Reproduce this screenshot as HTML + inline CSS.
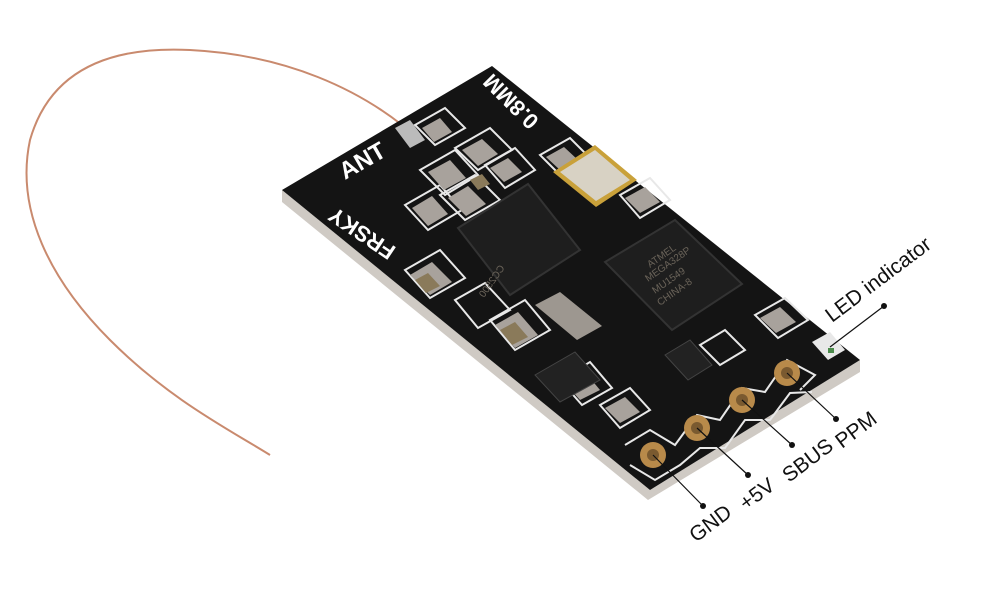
<!DOCTYPE html>
<html><head><meta charset="utf-8"><style>
html,body{margin:0;padding:0;background:#fff;}
svg{display:block;}
text{font-family:"Liberation Sans",sans-serif;}
</style></head><body>
<svg width="1000" height="606" viewBox="0 0 1000 606" xmlns="http://www.w3.org/2000/svg">
<!-- antenna -->
<path d="M402,125 C360,92 290,55 190,50 C110,46 50,70 30,140 C15,210 50,280 110,340 C170,400 230,430 270,455" fill="none" stroke="#c98a6e" stroke-width="2"/>
<!-- board edge (thickness) -->
<polygon points="282,190 282,202 648,500 860,372 860,360 650,490" fill="#cfcac4"/>
<polygon points="282,190 492,66 860,360 650,490" fill="#141414"/>
<!-- silkscreen text -->
<text x="0" y="0" font-size="24" fill="#fff" font-weight="bold" transform="translate(345,180) rotate(-30)">ANT</text>
<text x="0" y="0" font-size="22" fill="#fff" font-weight="bold" transform="translate(397,248) rotate(214)">FRSKY</text>
<text x="0" y="0" font-size="22" fill="#fff" font-weight="bold" transform="translate(540,120) rotate(225)">0.8MM</text>
<!-- antenna pad -->
<polygon points="395,128 410,120 425,140 410,148" fill="#bbb"/>
<!-- silkscreen boxes -->
<g fill="none" stroke="#e8e8e8" stroke-width="2">
<polygon points="415,125 445,108 465,128 435,145"/>
<polygon points="420,170 455,150 478,175 445,195"/>
<polygon points="455,148 490,128 512,150 478,170"/>
<polygon points="405,205 440,185 462,210 428,230"/>
<polygon points="440,195 475,175 500,200 465,220"/>
<polygon points="485,165 515,148 535,170 505,188"/>
<polygon points="540,155 570,138 590,158 560,175"/>
<polygon points="620,195 650,178 670,200 640,218"/>
<polygon points="405,270 440,250 465,278 430,298"/>
<polygon points="455,300 485,283 510,310 478,328"/>
<polygon points="490,320 525,300 550,330 515,350"/>
<polygon points="755,315 785,298 808,320 778,338"/>
<polygon points="700,345 725,330 745,350 720,365"/>
<polygon points="560,380 590,362 612,388 582,405"/>
<polygon points="600,405 630,388 650,410 620,428"/>
<polyline points="625,445 650,430 675,445 697,415 720,420 742,388 765,392 787,360 815,375 800,390"/>
<polyline points="630,465 655,480 680,465 700,448 725,448 745,420 770,420 790,393 812,392"/>
</g>
<!-- components -->
<g fill="#a8a29c">
<polygon points="422,128 440,118 452,132 434,142"/>
<polygon points="428,172 450,160 466,178 444,190"/>
<polygon points="462,150 482,139 498,154 478,166"/>
<polygon points="412,208 432,196 448,214 428,226"/>
<polygon points="448,198 468,186 486,204 466,216"/>
<polygon points="490,168 508,158 522,172 504,182"/>
<polygon points="546,157 564,147 578,160 560,170"/>
<polygon points="625,198 645,187 660,202 640,213"/>
<polygon points="410,275 432,262 452,282 430,295"/>
<polygon points="495,325 518,312 538,335 515,348"/>
<polygon points="760,318 780,307 796,322 776,333"/>
<polygon points="565,383 585,372 600,390 580,400"/>
<polygon points="605,408 625,397 640,412 620,423"/>
</g>
<g fill="#8a7a5a">
<polygon points="500,330 515,322 528,337 512,345"/>
<polygon points="415,280 428,273 440,286 426,293"/>
<polygon points="470,180 482,174 490,184 478,190"/>
</g>
<!-- gold crystal -->
<polygon points="553,172 595,145 637,180 596,207" fill="#c9a13a"/>
<polygon points="560,172 595,150 630,180 596,201" fill="#d8d2c4"/>
<!-- CC2500 -->
<polygon points="458,228 528,184 580,250 510,295" fill="#1e1e1e" stroke="#333" stroke-width="2"/>
<!-- ATMEL -->
<polygon points="605,262 675,220 742,284 672,330" fill="#1e1e1e" stroke="#333" stroke-width="2"/>
<g font-family="Liberation Mono,monospace" font-size="10" fill="#6b645a">
<text transform="translate(505,268) rotate(125) scale(-1,1) rotate(180)">CC2500</text>
<text transform="translate(650,268) rotate(-35)">ATMEL</text>
<text transform="translate(648,282) rotate(-35)">MEGA328P</text>
<text transform="translate(655,294) rotate(-35)">MU1549</text>
<text transform="translate(660,306) rotate(-35)">CHINA-8</text>
</g>
<!-- silver crystal -->
<polygon points="535,305 560,292 602,326 577,340" fill="#9d9790"/>
<!-- regulator chips -->
<polygon points="535,375 575,352 600,380 560,402" fill="#222" stroke="#444"/>
<polygon points="665,355 690,340 712,365 688,380" fill="#222" stroke="#444"/>
<!-- LED -->
<polygon points="812,342 830,332 845,350 828,360" fill="#e8e8e8"/>
<rect x="828" y="348" width="6" height="5" fill="#4a8a4a"/>
<!-- pins -->
<g>
<circle cx="653" cy="455" r="13" fill="#b88a4a"/><circle cx="653" cy="455" r="6" fill="#7a5a30"/>
<circle cx="697" cy="428" r="13" fill="#b88a4a"/><circle cx="697" cy="428" r="6" fill="#7a5a30"/>
<circle cx="742" cy="400" r="13" fill="#b88a4a"/><circle cx="742" cy="400" r="6" fill="#7a5a30"/>
<circle cx="787" cy="373" r="13" fill="#b88a4a"/><circle cx="787" cy="373" r="6" fill="#7a5a30"/>
</g>
<!-- leaders -->
<g stroke="#111" stroke-width="1.2">
<line x1="653" y1="455" x2="703" y2="506"/>
<line x1="697" y1="428" x2="748" y2="475"/>
<line x1="742" y1="400" x2="792" y2="445"/>
<line x1="787" y1="373" x2="836" y2="419"/>
<line x1="830" y1="347" x2="884" y2="306"/>
</g>
<g fill="#111">
<circle cx="703" cy="506" r="3"/><circle cx="748" cy="475" r="3"/><circle cx="792" cy="445" r="3"/><circle cx="836" cy="419" r="3"/><circle cx="884" cy="306" r="3"/>
</g>
<g font-size="21" fill="#111">
<text transform="translate(696,543) rotate(-37)">GND</text>
<text transform="translate(746,511) rotate(-37)">+5V</text>
<text transform="translate(789,483) rotate(-37)">SBUS</text>
<text transform="translate(842,449) rotate(-37)">PPM</text>
<text transform="translate(832,323) rotate(-37)">LED indicator</text>
</g>
</svg>
</body></html>
